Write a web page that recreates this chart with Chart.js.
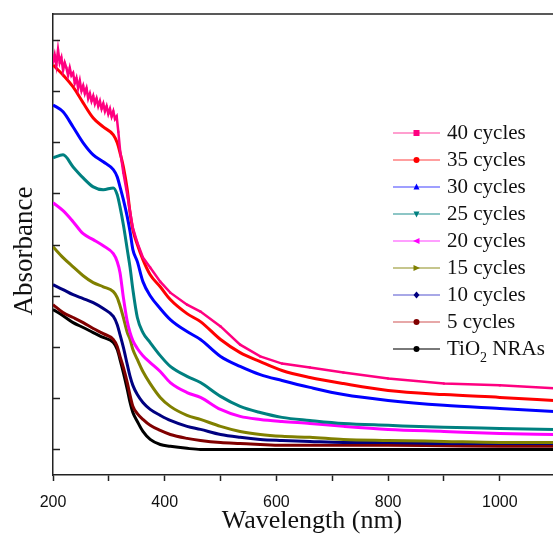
<!DOCTYPE html>
<html><head><meta charset="utf-8">
<script src="https://cdn.jsdelivr.net/npm/chart.js@4.4.1/dist/chart.umd.min.js"></script>
<style>html,body{margin:0;padding:0;background:#fff;overflow:hidden}#wrap{width:553px;height:537px;position:relative;overflow:hidden}</style>
</head><body><div id="wrap"><canvas id="c" width="558" height="537"></canvas></div>
<script>
// Shared wavelength grid (nm)
const wavelengths = [200,218,236,254,272,290,308,315,320,326,333,338,343,351,361,374,392,410,440,464,500,535,571,610,660,720,800,900,1000,1100];

// 40 cycles: noisy short-wavelength part is sampled more densely
const wavelengths40 = [200,203,206,209,212,215,218,221,224,227,230,233,236,239,242,245,248,251,254,257,260,263,266,269,272,275,278,281,284,287,290,293,296,299,302,305,308,311,314,317,320,326,333,338,343,351,361,374,392,410,440,464,500,535,571,610,660,720,800,900,1000,1100];
const cycles40 = [1.51,1.54,1.50,1.56,1.51,1.53,1.48,1.51,1.49,1.46,1.49,1.46,1.47,1.43,1.45,1.41,1.44,1.40,1.42,1.39,1.41,1.37,1.39,1.36,1.38,1.35,1.37,1.34,1.36,1.33,1.35,1.32,1.34,1.31,1.33,1.30,1.32,1.29,1.30,1.24,1.17,1.080,0.994,0.928,0.865,0.807,0.749,0.710,0.655,0.612,0.565,0.538,0.480,0.409,0.363,0.335,0.320,0.300,0.277,0.257,0.250,0.238];
const cycles35 = [1.501,1.462,1.415,1.353,1.294,1.259,1.228,1.197,1.158,1.103,1.014,0.924,0.858,0.800,0.741,0.682,0.635,0.585,0.530,0.499,0.429,0.378,0.343,0.308,0.281,0.257,0.230,0.214,0.203,0.191];
const cycles30 = [1.345,1.318,1.259,1.197,1.150,1.123,1.092,1.064,1.025,0.975,0.908,0.850,0.780,0.733,0.655,0.600,0.550,0.507,0.460,0.429,0.363,0.324,0.292,0.269,0.242,0.214,0.191,0.172,0.160,0.148];
const cycles25 = [1.138,1.150,1.103,1.060,1.025,1.014,1.021,0.994,0.947,0.877,0.780,0.710,0.624,0.515,0.456,0.417,0.366,0.324,0.285,0.261,0.207,0.168,0.144,0.125,0.113,0.101,0.094,0.086,0.082,0.078];
const cycles20 = [0.963,0.932,0.889,0.842,0.819,0.795,0.764,0.733,0.690,0.593,0.499,0.456,0.425,0.394,0.366,0.339,0.304,0.261,0.222,0.203,0.156,0.129,0.117,0.109,0.101,0.090,0.078,0.070,0.062,0.058];
const cycles15 = [0.791,0.749,0.713,0.678,0.651,0.635,0.616,0.593,0.561,0.515,0.456,0.429,0.390,0.351,0.304,0.257,0.203,0.168,0.133,0.117,0.090,0.070,0.058,0.051,0.047,0.039,0.035,0.031,0.027,0.027];
const cycles10 = [0.643,0.624,0.604,0.589,0.573,0.550,0.519,0.487,0.448,0.398,0.331,0.285,0.250,0.214,0.183,0.156,0.133,0.113,0.090,0.078,0.058,0.047,0.039,0.035,0.031,0.027,0.027,0.023,0.023,0.023];
const cycles5  = [0.565,0.534,0.515,0.495,0.472,0.452,0.429,0.402,0.363,0.320,0.261,0.211,0.168,0.140,0.117,0.094,0.074,0.058,0.043,0.035,0.027,0.023,0.019,0.016,0.016,0.016,0.016,0.014,0.012,0.012];
const tio2NRAs = [0.546,0.522,0.495,0.476,0.456,0.437,0.417,0.390,0.351,0.300,0.234,0.183,0.144,0.109,0.070,0.039,0.019,0.012,0.004,0,0,0,0,0,0,0,0,0,0,0];

const seriesLabels = ['40 cycles','35 cycles','30 cycles','25 cycles','20 cycles','15 cycles','10 cycles','5 cycles','TiO₂ NRAs'];
const seriesValues = [cycles40,cycles35,cycles30,cycles25,cycles20,cycles15,cycles10,cycles5,tio2NRAs];
const seriesColors = ['#FF0080','#FF0000','#0000FF','#008080','#FF00FF','#808000','#000080','#800000','#000000'];
const legendLineColors = ['rgba(255,0,128,0.5)','rgba(255,0,0,0.5)','rgba(0,0,255,0.5)','rgba(0,128,128,0.6)','rgba(255,0,255,0.5)','rgba(128,128,0,0.6)','rgba(60,60,200,0.6)','rgba(200,60,60,0.6)','rgba(0,0,0,0.7)'];
const markerShapes = ['square','circle','triUp','triDown','triLeft','triRight','diamond','circle','circle'];

const xTickValues = [200,300,400,500,600,700,800,900,1000];
const xTickLabels = [200,400,600,800,1000];
const yTickValues = [0,0.2,0.4,0.6,0.8,1.0,1.2,1.4,1.6];
const xTitle = 'Wavelength (nm)';
const yTitle = 'Absorbance';

const datasets = seriesValues.map((vals, i) => {
  const xs = i === 0 ? wavelengths40 : wavelengths;
  return {
    label: seriesLabels[i],
    data: vals.map((v, k) => ({x: xs[k], y: v})),
    borderColor: seriesColors[i],
    backgroundColor: seriesColors[i],
    borderWidth: i === 0 ? 2.5 : 3,
    pointRadius: i === 0 ? 1.5 : 0,
    pointStyle: 'rect',
    pointBorderWidth: 0,
    tension: 0,
    cubicInterpolationMode: i === 0 ? 'default' : 'monotone'
  };
});

function drawMarker(ctx, shape, x, y, color) {
  const s = 3;
  ctx.fillStyle = color;
  ctx.beginPath();
  switch (shape) {
    case 'square': ctx.rect(x - s, y - s, 2 * s, 2 * s); break;
    case 'circle': ctx.arc(x, y, s, 0, Math.PI * 2); break;
    case 'triUp': ctx.moveTo(x, y - s - 0.5); ctx.lineTo(x + s, y + s - 0.5); ctx.lineTo(x - s, y + s - 0.5); break;
    case 'triDown': ctx.moveTo(x, y + s + 0.5); ctx.lineTo(x + s, y - s + 0.5); ctx.lineTo(x - s, y - s + 0.5); break;
    case 'triLeft': ctx.moveTo(x - s - 0.5, y); ctx.lineTo(x + s, y - s); ctx.lineTo(x + s, y + s); break;
    case 'triRight': ctx.moveTo(x + s + 0.5, y); ctx.lineTo(x - s, y - s); ctx.lineTo(x - s, y + s); break;
    case 'diamond': ctx.moveTo(x, y - s - 0.5); ctx.lineTo(x + s, y); ctx.lineTo(x, y + s + 0.5); ctx.lineTo(x - s, y); break;
  }
  ctx.closePath();
  ctx.fill();
}

const framePlugin = {
  id: 'frame',
  afterDraw(chart) {
    const {ctx, chartArea: a} = chart;
    const ys = chart.scales.y;
    ctx.save();
    ctx.strokeStyle = '#222';
    ctx.lineWidth = 1.5;
    ctx.beginPath(); ctx.moveTo(a.left, a.top); ctx.lineTo(a.right, a.top); ctx.stroke();
    yTickValues.forEach(v => {
      const py = Math.round(ys.getPixelForValue(v)) + 0.5;
      ctx.beginPath(); ctx.moveTo(a.left, py); ctx.lineTo(a.left + 7, py); ctx.stroke();
    });
    // axis titles
    ctx.fillStyle = '#111';
    ctx.textAlign = 'center';
    ctx.textBaseline = 'middle';
    ctx.font = '26px "Liberation Serif"';
    ctx.fillText(xTitle, a.left + 259, a.bottom + 46);
    ctx.save();
    ctx.translate(a.left - 28, a.top + 237);
    ctx.rotate(-Math.PI / 2);
    ctx.font = '27px "Liberation Serif"';
    ctx.fillText(yTitle, 0, 0);
    ctx.restore();
    // legend
    ctx.textAlign = 'left';
    const x0 = a.left + 340, x1 = a.left + 387, tx = a.left + 394;
    const y0 = a.top + 119, dy = 27;
    const fontMain = '21px "Liberation Serif"';
    chart.data.datasets.forEach((ds, i) => {
      const y = y0 + i * dy;
      ctx.strokeStyle = legendLineColors[i];
      ctx.lineWidth = 1.3;
      ctx.beginPath(); ctx.moveTo(x0, y); ctx.lineTo(x1, y); ctx.stroke();
      drawMarker(ctx, markerShapes[i], (x0 + x1) / 2, y, seriesColors[i]);
      ctx.fillStyle = '#111';
      ctx.font = fontMain;
      const label = ds.label;
      if (label.includes('₂')) {
        const [a1, b1] = label.split('₂');
        ctx.fillText(a1, tx, y);
        const w = ctx.measureText(a1).width;
        ctx.font = '14px "Liberation Serif"';
        ctx.fillText('2', tx + w, y + 9);
        const w2 = ctx.measureText('2').width;
        ctx.font = fontMain;
        ctx.fillText(b1, tx + w + w2, y);
      } else {
        ctx.fillText(label, tx, y);
      }
    });
    ctx.restore();
  }
};

new Chart(document.getElementById('c'), {
  type: 'line',
  data: { datasets },
  options: {
    responsive: false,
    animation: false,
    events: [],
    layout: { padding: { top: 14, right: 0, bottom: 1, left: 0 } },
    plugins: { legend: { display: false }, tooltip: { enabled: false } },
    scales: {
      x: {
        type: 'linear',
        min: 200,
        max: 1097,
        afterBuildTicks: s => { s.ticks = xTickValues.map(v => ({ value: v })); },
        ticks: {
          autoSkip: false,
          maxRotation: 0,
          padding: 12,
          color: '#111',
          font: { family: '"Liberation Sans"', size: 16 },
          callback: v => xTickLabels.includes(Math.round(v)) ? String(Math.round(v)) : ''
        },
        grid: { display: true, drawOnChartArea: false, drawTicks: true, tickLength: 6, tickColor: '#222', tickWidth: 1.5 },
        border: { display: true, color: '#222', width: 1.5 },
        title: { display: false },
        afterFit: s => { s.height = 61; }
      },
      y: {
        type: 'linear',
        min: -0.1,
        max: 1.7,
        ticks: { display: false },
        grid: { display: false, drawTicks: false },
        border: { display: true, color: '#222', width: 1.5 },
        title: { display: false },
        afterFit: s => { s.width = 53; }
      }
    }
  },
  plugins: [framePlugin]
});
</script>
</body></html>
